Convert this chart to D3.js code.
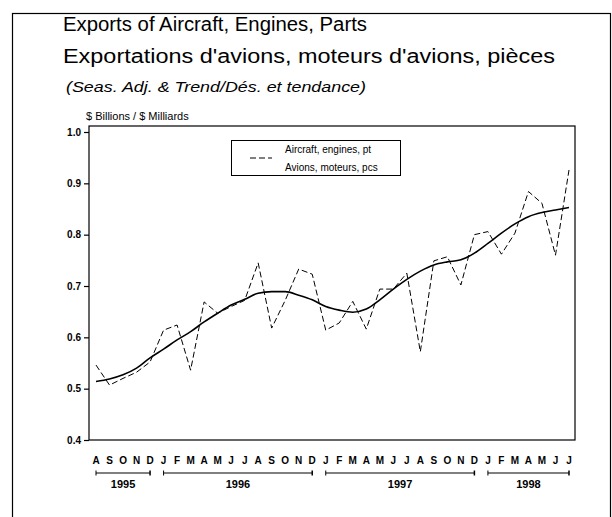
<!DOCTYPE html>
<html>
<head>
<meta charset="utf-8">
<style>
	body{ margin:0; background:#fff; }
	svg text{ font-family:"Liberation Sans", Arial, sans-serif; fill:#000; }
	.tick text{ font-weight:bold; font-size:10px; }
	.domain{ display:none; }
</style>
<script src="https://d3js.org/d3.v7.min.js"></script>
</head>
<body>
<div id="container"></div>
<script>

// months Aug 1995 .. Jul 1998
var monthInitials = ["J","F","M","A","M","J","J","A","S","O","N","D"];
var years = ["1995","1996","1997","1998"];

// seasonally adjusted (dashed) and trend (solid), $ billions
var seasAdj = [0.546,0.507,0.520,0.532,0.552,
	0.614,0.624,0.536,0.669,0.647,0.660,0.672,0.745,0.618,0.672,0.733,0.723,
	0.614,0.628,0.670,0.616,0.694,0.694,0.725,0.572,0.749,0.757,0.702,0.800,
	0.806,0.762,0.803,0.884,0.861,0.760,0.926];
var trend = [0.514,0.519,0.527,0.540,0.560,
	0.577,0.595,0.611,0.630,0.647,0.663,0.674,0.686,0.689,0.689,0.682,0.673,
	0.660,0.653,0.649,0.655,0.673,0.694,0.713,0.729,0.741,0.747,0.751,0.764,
	0.783,0.803,0.821,0.835,0.843,0.848,0.853];
var yTicks = [0.4,0.5,0.6,0.7,0.8,0.9,1.0];

var months = d3.timeMonth.range(new Date(1995,7,1), new Date(1998,7,1));

var W = 612, H = 517;
var plot = {left:89, right:575, top:126, bottom:440};

var svg = d3.select("#container").append("svg")
	.attr("width", W).attr("height", H);

// outer frame
svg.append("rect")
	.attr("x", 12.5).attr("y", 13.5)
	.attr("width", 598).attr("height", 520)
	.attr("fill", "none").attr("stroke", "#000").attr("stroke-width", 1.2);

// titles
svg.append("text").attr("x", 63).attr("y", 31)
	.style("font-size", "20px")
	.attr("textLength", 304).attr("lengthAdjust", "spacingAndGlyphs")
	.text("Exports of Aircraft, Engines, Parts");
svg.append("text").attr("x", 63).attr("y", 63)
	.style("font-size", "20px")
	.attr("textLength", 492).attr("lengthAdjust", "spacingAndGlyphs")
	.text("Exportations d'avions, moteurs d'avions, pièces");
svg.append("text").attr("x", 66).attr("y", 92)
	.style("font-size", "15px").style("font-style", "italic")
	.attr("textLength", 300).attr("lengthAdjust", "spacingAndGlyphs")
	.text("(Seas. Adj. & Trend/Dés. et tendance)");
svg.append("text").attr("x", 86).attr("y", 120)
	.style("font-size", "11px")
	.text("$ Billions / $ Milliards");

var x = d3.scaleLinear().domain([0, months.length-1]).range([96, 569]);
var y = d3.scaleLinear().domain([0.4, 1.0]).range([440, 132]);

// plot frame
svg.append("rect")
	.attr("x", plot.left).attr("y", plot.top)
	.attr("width", plot.right-plot.left).attr("height", plot.bottom-plot.top)
	.attr("fill", "none").attr("stroke", "#000").attr("stroke-width", 1.2);

// y axis
svg.append("g")
	.attr("transform", "translate(" + plot.left + ",0)")
	.call(d3.axisLeft(y).tickValues(yTicks).tickFormat(d3.format(".1f")).tickSize(5).tickPadding(3))
	.selectAll(".tick line").attr("stroke-width", 1.2);

// month letters
svg.append("g").selectAll("text")
	.data(months).enter().append("text")
	.attr("x", function(d, i){ return x(i); })
	.attr("y", 464)
	.attr("text-anchor", "middle")
	.style("font-size", "10px").style("font-weight", "bold")
	.text(function(d){ return monthInitials[d.getMonth()]; });

// year brackets
var yearSpans = years.map(function(yr){
	var idx = [];
	months.forEach(function(m, i){ if (m.getFullYear() == +yr) idx.push(i); });
	return {year: yr, first: d3.min(idx), last: d3.max(idx)};
});

var yg = svg.append("g").selectAll("g").data(yearSpans).enter().append("g");
yg.append("line")
	.attr("x1", function(d){ return x(d.first); })
	.attr("x2", function(d){ return x(d.last); })
	.attr("y1", 473).attr("y2", 473)
	.attr("stroke", "#000").attr("stroke-width", 1);
yg.append("line")
	.attr("x1", function(d){ return x(d.first); })
	.attr("x2", function(d){ return x(d.first); })
	.attr("y1", 470.5).attr("y2", 475.5)
	.attr("stroke", "#000");
yg.append("line")
	.attr("x1", function(d){ return x(d.last); })
	.attr("x2", function(d){ return x(d.last); })
	.attr("y1", 470.5).attr("y2", 475.5)
	.attr("stroke", "#000").attr("stroke-width", 1.5);
yg.append("text")
	.attr("x", function(d){ return (x(d.first)+x(d.last))/2; })
	.attr("y", 488)
	.attr("text-anchor", "middle")
	.style("font-size", "11px").style("font-weight", "bold")
	.text(function(d){ return d.year; });

// lines
var dashed = d3.line()
	.x(function(d, i){ return x(i); })
	.y(function(d){ return y(d); });
var smooth = d3.line()
	.x(function(d, i){ return x(i); })
	.y(function(d){ return y(d); })
	.curve(d3.curveMonotoneX);

svg.append("path").datum(seasAdj)
	.attr("d", dashed)
	.attr("fill", "none").attr("stroke", "#000")
	.attr("stroke-width", 1).attr("stroke-dasharray", "6,3");
svg.append("path").datum(trend)
	.attr("d", smooth)
	.attr("fill", "none").attr("stroke", "#000")
	.attr("stroke-width", 1.6);

// legend
var lg = svg.append("g");
lg.append("rect")
	.attr("x", 231.5).attr("y", 140.5).attr("width", 169).attr("height", 35)
	.attr("fill", "#fff").attr("stroke", "#000").attr("stroke-width", 1);
lg.append("line")
	.attr("x1", 250).attr("x2", 272).attr("y1", 158).attr("y2", 158)
	.attr("stroke", "#000").attr("stroke-dasharray", "6,3");
lg.append("text").attr("x", 285).attr("y", 153)
	.style("font-size", "10px").text("Aircraft, engines, pt");
lg.append("text").attr("x", 285).attr("y", 171)
	.style("font-size", "10px").text("Avions, moteurs, pcs");

</script>
</body>
</html>
